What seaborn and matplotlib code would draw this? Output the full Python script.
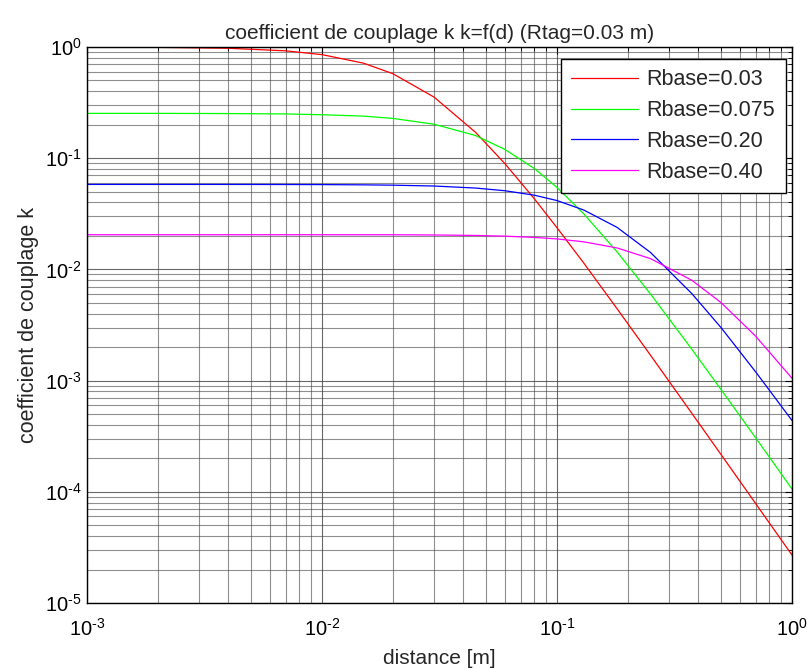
import matplotlib
matplotlib.use("Agg")
import matplotlib.pyplot as plt
import seaborn as sns
import pandas as pd
import numpy as np
from matplotlib.ticker import LogLocator, FuncFormatter, NullFormatter

distance = [0.001, 0.002, 0.004, 0.007, 0.01, 0.015, 0.02, 0.03, 0.045, 0.06,
            0.08, 0.1, 0.13, 0.18, 0.25, 0.375, 0.5, 0.7, 1.0]
k_003 = [0.998, 0.993, 0.974, 0.924, 0.854, 0.716, 0.576, 0.354, 0.171, 0.0894,
         0.0433, 0.0237, 0.0114, 0.00444, 0.00169, 5.07e-4, 2.15e-4, 7.85e-5, 2.70e-5]
k_0075 = [0.253, 0.253, 0.252, 0.250, 0.246, 0.239, 0.228, 0.202, 0.160, 0.120,
          0.0809, 0.0546, 0.0316, 0.0144, 0.00600, 0.00191, 8.26e-4, 3.06e-4, 1.06e-4]
k_020 = [0.0581, 0.0581, 0.0581, 0.0580, 0.0579, 0.0576, 0.0572, 0.0562, 0.0539, 0.0510,
         0.0465, 0.0416, 0.0342, 0.0239, 0.0142, 0.00605, 0.00298, 0.00120, 4.38e-4]
k_040 = [0.0205, 0.0205, 0.0205, 0.0205, 0.0205, 0.0205, 0.0205, 0.0204, 0.0202, 0.0199,
         0.0194, 0.0188, 0.0177, 0.0156, 0.0125, 0.00798, 0.00501, 0.00251, 0.00105]
labels = ["Rbase=0.03", "Rbase=0.075", "Rbase=0.20", "Rbase=0.40"]
colors = ["#ff0000", "#00ff00", "#0000ff", "#ff00ff"]

frames = []
for lab, vals in zip(labels, [k_003, k_0075, k_020, k_040]):
    frames.append(pd.DataFrame({"d": distance, "k": vals, "serie": lab}))
df = pd.concat(frames, ignore_index=True)

sns.set_style("white")
plt.rcParams['font.family'] = ['Liberation Sans', 'DejaVu Sans']
plt.rcParams['mathtext.fontset'] = 'custom'
plt.rcParams['mathtext.rm'] = 'Liberation Sans'
plt.rcParams['mathtext.it'] = 'Liberation Sans'
plt.rcParams['mathtext.sf'] = 'Liberation Sans'

fig = plt.figure(figsize=(8.07, 6.69), dpi=100)
ax = fig.add_axes([87/807, 1-603/669, 705/807, 556/669])

sns.lineplot(data=df, x="d", y="k", hue="serie", palette=dict(zip(labels, colors)),
             estimator=None, sort=False, linewidth=0.9, ax=ax, legend=False)
for lab, c in zip(labels, colors):
    ax.plot([], [], color=c, lw=0.9, label=lab)

ax.set_xscale("log")
ax.set_yscale("log")
ax.set_xlim(1e-3, 1)
ax.set_ylim(1e-5, 1)


def pow_fmt(v, pos):
    e = int(round(np.log10(v)))
    return r"$10^{\text{%d}}$" % e


ax.xaxis.set_major_locator(LogLocator(base=10, numticks=10))
ax.yaxis.set_major_locator(LogLocator(base=10, numticks=10))
ax.xaxis.set_minor_locator(LogLocator(base=10, subs=range(2, 10), numticks=20))
ax.yaxis.set_minor_locator(LogLocator(base=10, subs=range(2, 10), numticks=20))
ax.xaxis.set_major_formatter(FuncFormatter(pow_fmt))
ax.yaxis.set_major_formatter(FuncFormatter(pow_fmt))
ax.xaxis.set_minor_formatter(NullFormatter())
ax.yaxis.set_minor_formatter(NullFormatter())

ax.grid(True, which="major", color="#444444", lw=0.8, alpha=0.8)
ax.grid(True, which="minor", color="#444444", lw=0.8, alpha=0.6)
ax.set_axisbelow(True)

ax.tick_params(which="both", direction="in", top=True, right=True, colors="black")
ax.tick_params(which="major", length=5, width=0.8, labelsize=14.5)
ax.tick_params(axis="x", which="major", pad=11)
ax.tick_params(axis="y", which="major", pad=4)
ax.tick_params(which="minor", length=3, width=0.6)
for s in ax.spines.values():
    s.set_color("black")
    s.set_linewidth(1.0)

ax.set_title("coefficient de couplage k k=f(d) (Rtag=0.03 m)", fontsize=15, pad=6)
ax.set_xlabel("distance [m]", fontsize=15, labelpad=6)
ax.set_ylabel("coefficient de couplage k", fontsize=15.5, labelpad=4)

leg = ax.legend(loc="upper right", bbox_to_anchor=(0.9915, 0.979), fontsize=15.5,
                frameon=True, fancybox=False, edgecolor="black", framealpha=1,
                handlelength=3.1, handletextpad=0.4, borderpad=0.5, labelspacing=0.45,
                borderaxespad=0)
leg.get_frame().set_linewidth(1.0)

fig.savefig("out.png", dpi=100)
